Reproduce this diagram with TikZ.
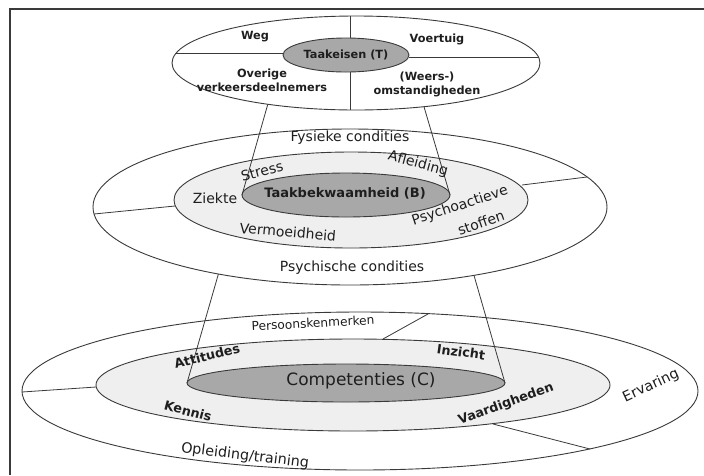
\documentclass[tikz,border=0pt]{standalone}
\usepackage{fontspec}
\setmainfont{DejaVu Sans}
\usetikzlibrary{shapes.geometric}
\definecolor{lgray}{HTML}{EFEFEF}
\definecolor{dgray}{HTML}{A8A8A8}
\definecolor{ln}{HTML}{3A3A3A}
\definecolor{tx}{HTML}{1E1E1E}
\begin{document}
\begin{tikzpicture}[x=1pt,y=-1pt,
  ell/.style={ellipse, draw=ln, line width=0.9pt, inner sep=0pt, outer sep=0pt},
  div/.style={draw=ln, line width=0.8pt},
  lab/.style={inner sep=0pt, text=tx},
  topl/.style={lab, font=\bfseries\fontsize{11.3}{13}\selectfont, align=center},
  midl/.style={lab, font=\fontsize{14}{15}\selectfont},
  midb/.style={lab, font=\bfseries\fontsize{13}{15}\selectfont},
  botl/.style={lab, font=\fontsize{14.3}{15}\selectfont},
  botb/.style={lab, font=\bfseries\fontsize{12.8}{15}\selectfont}]
\useasboundingbox (0,0) rectangle (704,475);
\fill[white] (0,0) rectangle (704,475);
\draw[ln, line width=2pt] (704,9) -- (10,9) -- (10,475);

% ---------- bottom group ----------
\node[ell, fill=white, minimum width=676pt, minimum height=158pt] (bo) at (360,391) {};
\node[ell, fill=lgray, minimum width=514pt, minimum height=92pt] (bi) at (353,385) {};
\node[ell, fill=dgray, minimum width=318pt, minimum height=38pt] (C) at (346,383) {};
\coordinate (bdl1) at (22,392);  \coordinate (bdl2) at (96,387);
\coordinate (bdu1) at (383,339); \coordinate (bdu2) at (428,314);
\coordinate (bdr1) at (493,424); \coordinate (bdr2) at (590,449);
\draw[div] (bdl1) -- (bdl2);
\draw[div] (bdu1) -- (bdu2);
\draw[div] (bdr1) -- (bdr2);
% lower cone
\coordinate (lcl) at (221,265); \coordinate (lcr) at (471,265);
\draw[div] (lcl) -- (C.west);
\draw[div] (lcr) -- (C.east);

% ---------- middle group ----------
\node[ell, fill=white, minimum width=514pt, minimum height=156pt] (mo) at (350,207) {};
\node[ell, fill=lgray, minimum width=354pt, minimum height=96pt] (mi) at (351,200) {};
\node[ell, fill=dgray, minimum width=208pt, minimum height=44pt] (B) at (346,195) {};
\coordinate (mdl1) at (94,214);  \coordinate (mdl2) at (175,206);
\coordinate (mdr1) at (522,185); \coordinate (mdr2) at (587,177);
\draw[div] (mdl1) -- (mdl2);
\draw[div] (mdr1) -- (mdr2);
% upper cone
\coordinate (ucl) at (269,100); \coordinate (ucr) at (422,100);
\draw[div] (ucl) -- (B.west);
\draw[div] (ucr) -- (B.east);

% ---------- top group ----------
\node[ell, fill=white, minimum width=368pt, minimum height=94pt] (to) at (356,63) {};
\node[ell, fill=dgray, minimum width=126pt, minimum height=34pt] (T) at (346,55) {};
\coordinate (tv1) at (350,16);  \coordinate (tv2) at (350,110);
\coordinate (th1) at (176,53);  \coordinate (th2) at (539,57);
\draw[div] (tv1) -- (T.north -| tv1);
\draw[div] (T.south -| tv2) -- (tv2);
\draw[div] (th1) -- (th1 -| T.west);
\draw[div] (th2 -| T.east) -- (th2);

% ---------- labels top ----------
\node[topl] (lweg) at (255,37) {Weg};
\node[topl] (lvoer) at (437,39) {Voertuig};
\node[topl] (lT) at (346,55) {Taakeisen (T)};
\node[topl] (lover) at (262,80) {Overige\\[1pt]verkeersdeelnemers};
\node[topl] (lweer) at (427,84) {(Weers-)\\[1pt]omstandigheden};

% ---------- labels middle ----------
\node[midl] (lfys) at (350,138) {Fysieke condities};
\node[midl, rotate=15] (lstr) at (262,171) {Stress};
\node[midl, rotate=-15] (lafl) at (418,164) {Afleiding};
\node[midl] (lzie) at (215,198) {Ziekte};
\node[midb] (lB) at (345,193) {Taakbekwaamheid (B)};
\node[midl, rotate=-5] (lver) at (288,232) {Vermoeidheid};
\node[midl, rotate=18] (lpsy) at (460,206) {Psychoactieve};
\node[midl, rotate=19] (lsto) at (481,223) {stoffen};
\node[midl] (lpsc) at (352,268) {Psychische condities};

% ---------- labels bottom ----------
\node[lab, font=\fontsize{12.2}{13}\selectfont, rotate=3] (lper) at (313,323) {Persoonskenmerken};
\node[botb, rotate=14] (latt) at (207,356) {Attitudes};
\node[botb, rotate=-8] (linz) at (461,352) {Inzicht};
\node[lab, font=\fontsize{17}{19}\selectfont] (lC) at (361,381) {Competenties (C)};
\node[botb, rotate=-15] (lken) at (188,411) {Kennis};
\node[botb, rotate=20] (lvaa) at (506,404) {Vaardigheden};
\node[botl, rotate=25] (lerv) at (651,386) {Ervaring};
\node[botl, rotate=-7] (lopl) at (245,456) {Opleiding/training};
\end{tikzpicture}
\end{document}
